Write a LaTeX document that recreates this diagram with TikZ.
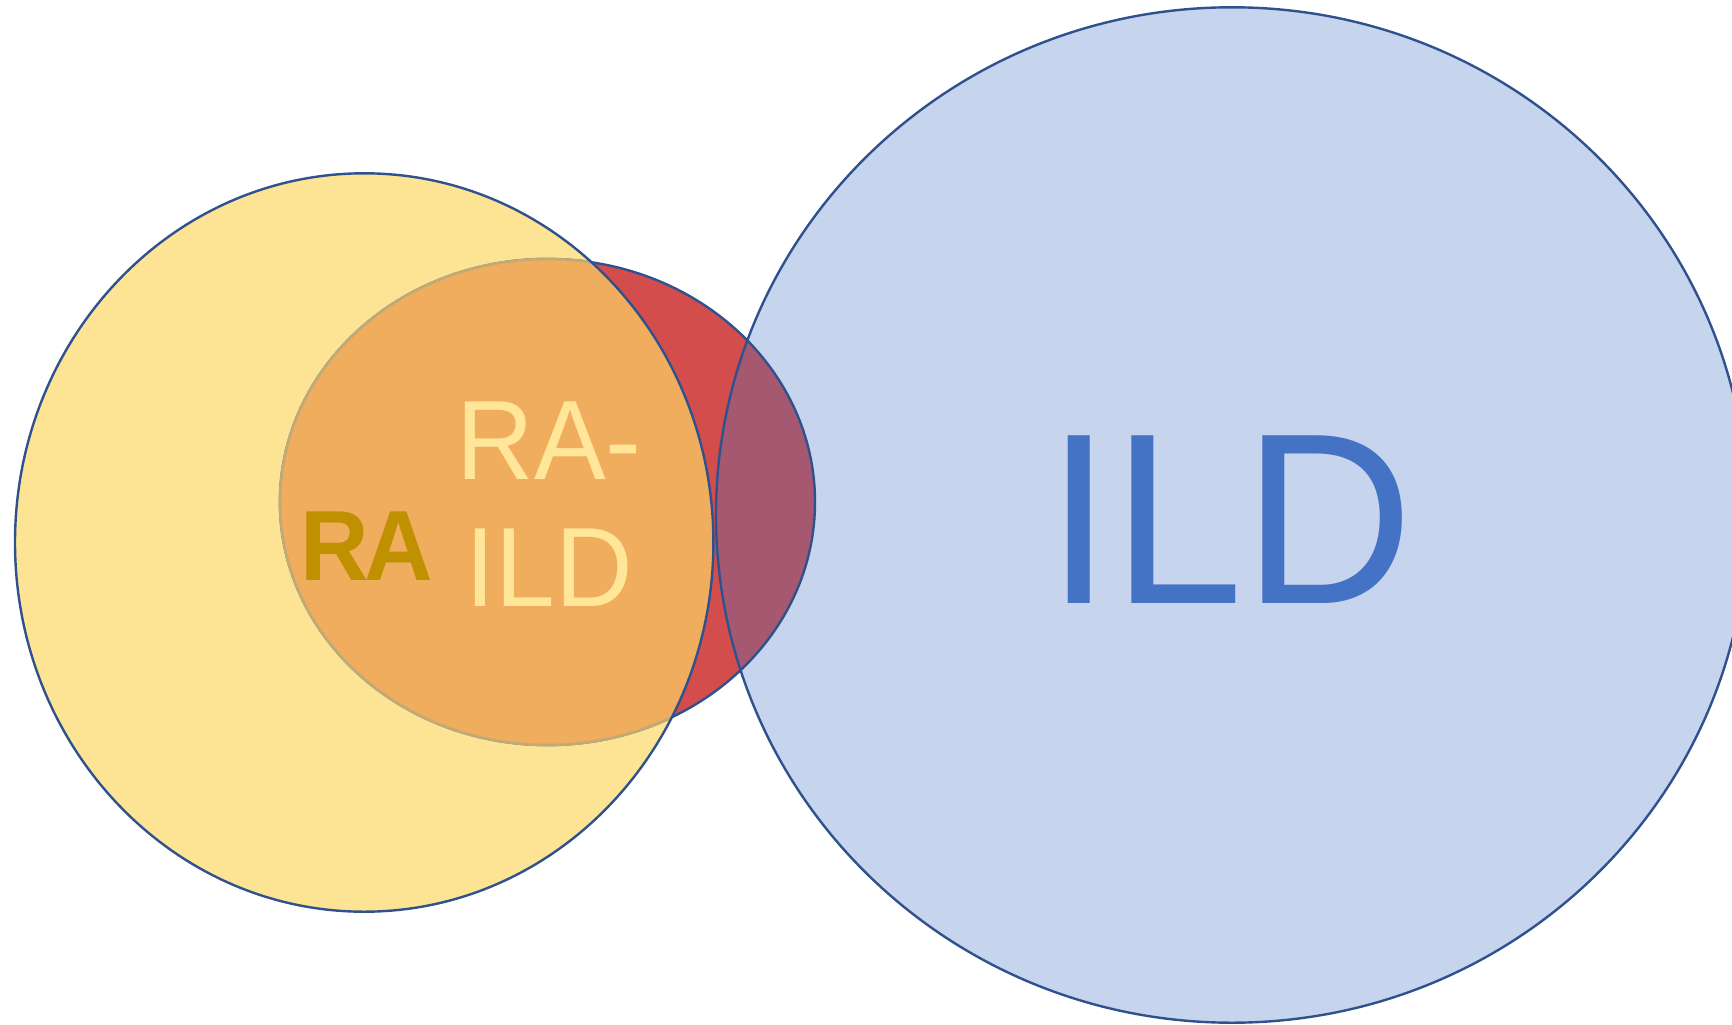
\documentclass[tikz,border=0pt]{standalone}
\usepackage{fontspec}
\setmainfont{Liberation Sans}
\definecolor{rimblue}{HTML}{2F528F}
\definecolor{rayellow}{HTML}{FDE394}
\definecolor{overlaporange}{HTML}{F0AD5E}
\definecolor{overlaprim}{HTML}{C2AA76}
\definecolor{bothred}{HTML}{D44D4D}
\definecolor{ildfill}{HTML}{C6D4ED}
\definecolor{ildpurple}{HTML}{A65870}
\definecolor{ildtext}{HTML}{4472C4}
\definecolor{ratext}{HTML}{BF9000}
\definecolor{paletext}{HTML}{FFE699}
% slightly taller lettering
\newcommand{\tallword}[2][0.985]{\scalebox{#1}[1.035]{#2}}
\tikzset{
  rim/.style={draw=rimblue, line width=2.4pt},
  setlabel/.style={inner sep=0pt, outer sep=0pt},
}
\begin{document}
\begin{tikzpicture}[x=1pt, y=-1pt]
  \clip (0,0) rectangle (1732,1025);
  \coordinate (ra) at (364.2,542.5);
  \coordinate (both) at (547.5,502);
  \coordinate (ild) at (1232,515);
  \def\raellipse{(ra) ellipse [x radius=349.2, y radius=369.2]}
  \def\bothellipse{(both) ellipse [x radius=267.5, y radius=243]}
  \def\ildellipse{(ild) ellipse [x radius=516, y radius=507.7]}

  % RA set
  \fill[rayellow] \raellipse;
  % RA-ILD set
  \path[fill=bothred, rim] \bothellipse;
  \begin{scope}
    \clip \raellipse;
    \path[fill=overlaporange, draw=overlaprim, line width=2.7pt] \bothellipse;
  \end{scope}
  \path[rim] \raellipse;

  % ILD set
  \fill[ildfill] \ildellipse;
  \begin{scope}
    \clip \ildellipse;
    \path[fill=ildpurple, rim] \bothellipse;
  \end{scope}
  \path[rim] \ildellipse;

  % labels
  \node[setlabel, anchor=base west, text=ratext,
        font=\fontsize{96.4}{115}\selectfont\bfseries] (ralabel) at (300,580)
    {\tallword{R\kern-4ptA}};
  \node[setlabel, anchor=base, text=paletext, align=center,
        font=\fontsize{109}{127.7}\selectfont] (railabel) at (549,606.7)
    {\tallword{RA-}\\\tallword{ILD}};
  \node[setlabel, anchor=base, text=ildtext,
        font=\fontsize{235.6}{280}\selectfont] (ildlabel) at (1230,603.7)
    {\tallword[1]{ILD}};
\end{tikzpicture}
\end{document}
